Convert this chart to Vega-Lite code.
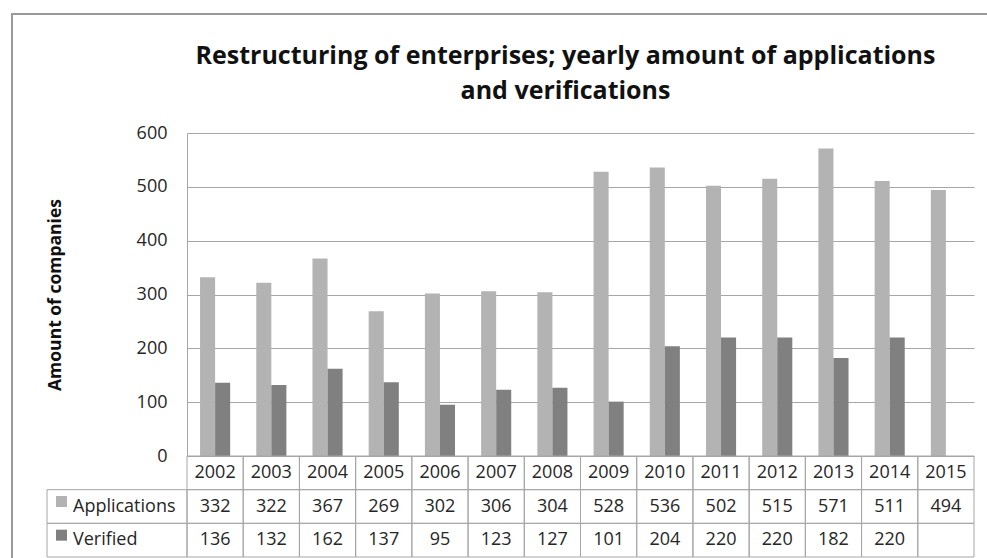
{
  "$schema": "https://vega.github.io/schema/vega-lite/v6.json",
  "width": 977,
  "height": 546,
  "autosize": {"type": "none"},
  "padding": {"left": 12, "top": 14, "right": -2, "bottom": -2},
  "background": "white",
  "config": {
    "view": {"stroke": "#9a9a9a", "strokeWidth": 2},
    "font": "Open Sans",
    "text": {"font": "Open Sans", "fontSize": 18, "color": "#262626"}
  },
  "title": {
    "text": ["Restructuring of enterprises; yearly amount of applications", "and verifications"],
    "font": "Open Sans",
    "fontSize": 25,
    "fontWeight": "bold",
    "color": "#111111",
    "anchor": "middle",
    "dx": 65,
    "offset": -90,
    "lineHeight": 35
  },
  "data": {
    "values": [
      {"year": "2002", "series": "Applications", "value": 332},
      {"year": "2003", "series": "Applications", "value": 322},
      {"year": "2004", "series": "Applications", "value": 367},
      {"year": "2005", "series": "Applications", "value": 269},
      {"year": "2006", "series": "Applications", "value": 302},
      {"year": "2007", "series": "Applications", "value": 306},
      {"year": "2008", "series": "Applications", "value": 304},
      {"year": "2009", "series": "Applications", "value": 528},
      {"year": "2010", "series": "Applications", "value": 536},
      {"year": "2011", "series": "Applications", "value": 502},
      {"year": "2012", "series": "Applications", "value": 515},
      {"year": "2013", "series": "Applications", "value": 571},
      {"year": "2014", "series": "Applications", "value": 511},
      {"year": "2015", "series": "Applications", "value": 494},
      {"year": "2002", "series": "Verified", "value": 136},
      {"year": "2003", "series": "Verified", "value": 132},
      {"year": "2004", "series": "Verified", "value": 162},
      {"year": "2005", "series": "Verified", "value": 137},
      {"year": "2006", "series": "Verified", "value": 95},
      {"year": "2007", "series": "Verified", "value": 123},
      {"year": "2008", "series": "Verified", "value": 127},
      {"year": "2009", "series": "Verified", "value": 101},
      {"year": "2010", "series": "Verified", "value": 204},
      {"year": "2011", "series": "Verified", "value": 220},
      {"year": "2012", "series": "Verified", "value": 220},
      {"year": "2013", "series": "Verified", "value": 182},
      {"year": "2014", "series": "Verified", "value": 220},
      {"year": "2015", "series": "Verified", "value": null}
    ]
  },
  "layer": [
    {
      "mark": {"type": "bar"},
      "encoding": {
        "x": {"field": "year", "type": "nominal", "scale": {"range": [175, 962], "paddingInner": 0, "paddingOuter": 0}, "axis": null},
        "xOffset": {"field": "series", "type": "nominal", "scale": {"paddingInner": 0, "paddingOuter": 0.867}},
        "y": {
          "field": "value", "type": "quantitative",
          "scale": {"domain": [0, 600], "range": [442, 119], "nice": false},
          "axis": {
            "values": [0, 100, 200, 300, 400, 500, 600],
            "offset": -175,
            "grid": true,
            "gridColor": "#a6a6a6",
            "gridWidth": 1,
            "domain": true,
            "domainColor": "#a6a6a6",
            "ticks": false,
            "labelPadding": 20,
            "labelFont": "Open Sans",
            "labelFontSize": 18,
            "labelColor": "#262626",
            "title": "Amount of companies",
            "titleFont": "Open Sans",
            "titleFontSize": 17.5,
            "titleFontWeight": "bold",
            "titleColor": "#111111",
            "titlePadding": 72
          }
        },
        "color": {"field": "series", "type": "nominal", "scale": {"domain": ["Applications", "Verified"], "range": ["#b3b3b3", "#808080"]}, "legend": null}
      }
    },
    {
      "mark": {"type": "rect", "fill": "white", "fillOpacity": 0, "stroke": "#a6a6a6", "strokeWidth": 1},
      "encoding": {
        "x": {"field": "year", "type": "nominal", "scale": {"range": [175, 962], "paddingInner": 0, "paddingOuter": 0}, "axis": null},
        "y": {"field": "series", "type": "nominal", "scale": {"domain": ["Year", "Applications", "Verified"], "range": [442, 543], "paddingInner": 0, "paddingOuter": 0}, "axis": null}
      }
    },
    {
      "transform": [{"filter": "datum.series === 'Applications'"}],
      "mark": {"type": "rect", "fill": "white", "fillOpacity": 0, "stroke": "#a6a6a6", "strokeWidth": 1},
      "encoding": {
        "x": {"field": "year", "type": "nominal", "scale": {"range": [175, 962], "paddingInner": 0, "paddingOuter": 0}, "axis": null},
        "y": {"datum": "Year", "type": "nominal", "scale": {"domain": ["Year", "Applications", "Verified"], "range": [442, 543], "paddingInner": 0, "paddingOuter": 0}, "axis": null}
      }
    },
    {
      "transform": [{"filter": "datum.value != null"}],
      "mark": {"type": "text", "baseline": "middle", "align": "center"},
      "encoding": {
        "x": {"field": "year", "type": "nominal", "scale": {"range": [175, 962], "paddingInner": 0, "paddingOuter": 0}, "axis": null},
        "y": {"field": "series", "type": "nominal", "scale": {"domain": ["Year", "Applications", "Verified"], "range": [442, 543], "paddingInner": 0, "paddingOuter": 0}, "axis": null},
        "text": {"field": "value", "type": "quantitative"}
      }
    },
    {
      "transform": [{"filter": "datum.series === 'Applications'"}],
      "mark": {"type": "text", "baseline": "middle", "align": "center"},
      "encoding": {
        "x": {"field": "year", "type": "nominal", "scale": {"range": [175, 962], "paddingInner": 0, "paddingOuter": 0}, "axis": null},
        "y": {"datum": "Year", "type": "nominal", "scale": {"domain": ["Year", "Applications", "Verified"], "range": [442, 543], "paddingInner": 0, "paddingOuter": 0}, "axis": null},
        "text": {"field": "year", "type": "nominal"}
      }
    },
    {
      "transform": [{"filter": "datum.year === '2002'"}],
      "mark": {"type": "rect", "fill": "white", "fillOpacity": 0, "stroke": "#a6a6a6", "strokeWidth": 1},
      "encoding": {
        "x": {"datum": "legend", "type": "nominal", "scale": {"domain": ["legend"], "range": [35, 175], "paddingInner": 0, "paddingOuter": 0}, "axis": null},
        "y": {"field": "series", "type": "nominal", "scale": {"domain": ["Year", "Applications", "Verified"], "range": [442, 543], "paddingInner": 0, "paddingOuter": 0}, "axis": null}
      }
    },
    {
      "transform": [{"filter": "datum.year === '2002'"}],
      "mark": {"type": "square", "filled": true, "size": 121, "opacity": 1, "xOffset": -55.5, "yOffset": -5},
      "encoding": {
        "x": {"datum": "legend", "type": "nominal", "scale": {"domain": ["legend"], "range": [35, 175], "paddingInner": 0, "paddingOuter": 0}, "axis": null},
        "y": {"field": "series", "type": "nominal", "scale": {"domain": ["Year", "Applications", "Verified"], "range": [442, 543], "paddingInner": 0, "paddingOuter": 0}, "axis": null},
        "color": {"field": "series", "type": "nominal", "scale": {"domain": ["Applications", "Verified"], "range": ["#b3b3b3", "#808080"]}, "legend": null}
      }
    },
    {
      "transform": [{"filter": "datum.year === '2002'"}],
      "mark": {"type": "text", "baseline": "middle", "align": "left", "dx": -44},
      "encoding": {
        "x": {"datum": "legend", "type": "nominal", "scale": {"domain": ["legend"], "range": [35, 175], "paddingInner": 0, "paddingOuter": 0}, "axis": null},
        "y": {"field": "series", "type": "nominal", "scale": {"domain": ["Year", "Applications", "Verified"], "range": [442, 543], "paddingInner": 0, "paddingOuter": 0}, "axis": null},
        "text": {"field": "series", "type": "nominal"}
      }
    }
  ],
  "resolve": {"scale": {"x": "independent", "y": "independent", "xOffset": "independent", "color": "independent"}}
}
